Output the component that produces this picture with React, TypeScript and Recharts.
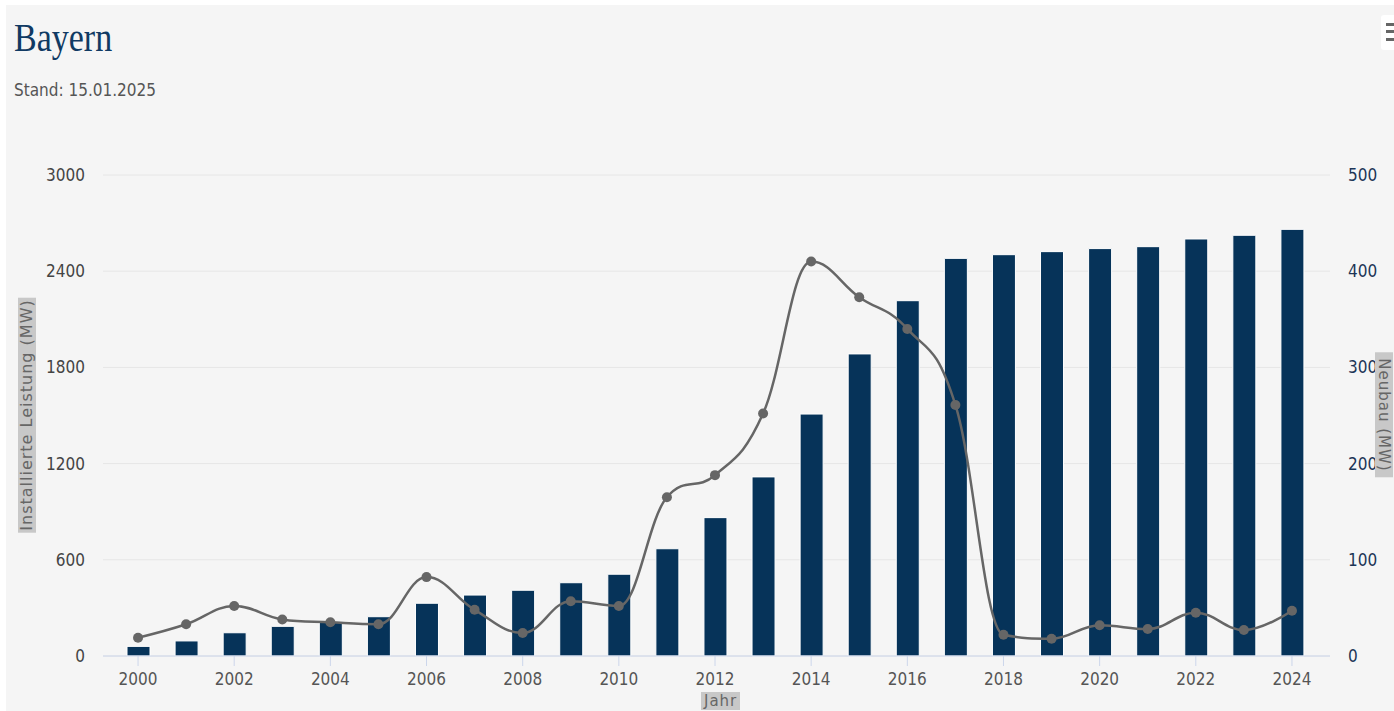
import React from 'react';
import {
  ComposedChart, Bar, Line, XAxis, YAxis, CartesianGrid,
} from 'recharts';

// Jahre, Gesamtleistung (Balken, linke Achse) und Neubau (Linie, rechte Achse)
const years = [
  '2000', '2001', '2002', '2003', '2004', '2005', '2006', '2007', '2008', '2009',
  '2010', '2011', '2012', '2013', '2014', '2015', '2016', '2017', '2018', '2019',
  '2020', '2021', '2022', '2023', '2024',
];
const installiert = [
  60, 94, 145, 185, 213, 245, 329, 380, 410, 457,
  510, 669, 863, 1117, 1509, 1884, 2216, 2480, 2503, 2522,
  2541, 2553, 2601, 2624, 2661,
];
const neubau = [
  19, 33, 52, 38, 35, 33, 82, 48, 24, 57,
  52, 165, 188, 252, 410, 373, 340, 261, 22, 18,
  32, 28, 45, 27, 47,
];
const leftTicks = [0, 600, 1200, 1800, 2400, 3000];
const rightTicks = [0, 100, 200, 300, 400, 500];

const data = years.map((y, i) => ({ jahr: y, leistung: installiert[i], neubau: neubau[i] }));

const NAVY = '#063359';
const GREY_LINE = '#666666';
const TICK_FONT = '"Liberation Sans Narrow", "DejaVu Sans Condensed", sans-serif';

// spline like highcharts: smoothing 1.5, no overshoot
function hcSpline(context: any) {
  let pts: number[][] = [];
  return {
    areaStart() {},
    areaEnd() {},
    lineStart() { pts = []; },
    point(x: number, y: number) { pts.push([+x, +y]); },
    lineEnd() {
      const n = pts.length;
      if (!n) return;
      const lc: number[][] = [];
      const rc: number[][] = [];
      for (let i = 0; i < n; i++) {
        const [px, py] = pts[i];
        if (i > 0 && i < n - 1) {
          const [lx, ly] = pts[i - 1];
          const [nx, ny] = pts[i + 1];
          const s = 1.5, d = 2.5;
          const lcx = (s * px + lx) / d;
          let lcy = (s * py + ly) / d;
          const rcx = (s * px + nx) / d;
          let rcy = (s * py + ny) / d;
          const corr = ((rcy - lcy) * (rcx - px)) / (rcx - lcx) + py - rcy;
          lcy += corr;
          rcy += corr;
          if (lcy > ly && lcy > py) { lcy = Math.max(ly, py); rcy = 2 * py - lcy; }
          else if (lcy < ly && lcy < py) { lcy = Math.min(ly, py); rcy = 2 * py - lcy; }
          if (rcy > ny && rcy > py) { rcy = Math.max(ny, py); lcy = 2 * py - rcy; }
          else if (rcy < ny && rcy < py) { rcy = Math.min(ny, py); lcy = 2 * py - rcy; }
          lc[i] = [lcx, lcy];
          rc[i] = [rcx, rcy];
        } else {
          lc[i] = [px, py];
          rc[i] = [px, py];
        }
      }
      context.moveTo(pts[0][0], pts[0][1]);
      for (let i = 1; i < n; i++) {
        context.bezierCurveTo(rc[i - 1][0], rc[i - 1][1], lc[i][0], lc[i][1], pts[i][0], pts[i][1]);
      }
    },
  };
}

const axisTitle: React.CSSProperties = {
  position: 'absolute',
  background: '#c8c8c8',
  color: '#666',
  fontFamily: '"DejaVu Sans", sans-serif',
  fontSize: 16,
  letterSpacing: 1,
  lineHeight: '18px',
  padding: '0 2px',
  whiteSpace: 'nowrap',
};

export default function App() {
  return (
    <div style={{ position: 'absolute', left: 0, top: 0, width: 1394, height: 711, background: '#fff', overflow: 'hidden' }}>
      <div style={{ position: 'absolute', left: 6, top: 5, width: 1388, height: 706, background: '#f5f5f5' }}>
        <ComposedChart
          width={1388}
          height={706}
          data={data}
          margin={{ top: 170, right: 4, bottom: 15, left: 37 }}
        >
          <CartesianGrid yAxisId="left" vertical={false} stroke="#e6e6e6" />
          <XAxis
            dataKey="jahr"
            interval={1}
            padding={{ left: 11, right: 14 }}
            height={40}
            axisLine={{ stroke: '#ccd6eb' }}
            tickLine={{ stroke: '#ccd6eb' }}
            tickSize={10}
            tickMargin={7}
            tick={{ fill: '#555', fontSize: 17, fontFamily: TICK_FONT }}
          />
          <YAxis
            yAxisId="left"
            orientation="left"
            width={60}
            domain={[0, 3000]}
            ticks={leftTicks}
            axisLine={false}
            tickLine={false}
            tickSize={0}
            tickMargin={18}
            tick={{ fill: '#444', fontSize: 17, fontFamily: TICK_FONT }}
          />
          <YAxis
            yAxisId="right"
            orientation="right"
            width={60}
            domain={[0, 500]}
            ticks={rightTicks}
            axisLine={false}
            tickLine={false}
            tickSize={0}
            tickMargin={18}
            tick={{ fill: '#1c3557', fontSize: 17, fontFamily: TICK_FONT }}
          />
          <Bar
            yAxisId="left"
            dataKey="leistung"
            fill={NAVY}
            stroke="#ffffff"
            strokeWidth={1}
            barSize={23}
            isAnimationActive={false}
          />
          <Line
            yAxisId="right"
            dataKey="neubau"
            type={hcSpline as any}
            stroke={GREY_LINE}
            strokeWidth={2.5}
            dot={{ r: 5, fill: GREY_LINE, stroke: GREY_LINE, strokeWidth: 0 }}
            activeDot={false}
            isAnimationActive={false}
          />
        </ComposedChart>
      </div>

      <div style={{ position: 'absolute', left: 14, top: 14, fontFamily: '"Liberation Serif", "DejaVu Serif", serif', fontSize: 40, color: '#103a63', transform: 'scaleX(0.85)', transformOrigin: 'left top', lineHeight: '48px' }}>
        Bayern
      </div>
      <div style={{ position: 'absolute', left: 14, top: 79, fontFamily: TICK_FONT, fontSize: 17, color: '#555', lineHeight: '22px' }}>
        Stand: 15.01.2025
      </div>

      <div style={{ ...axisTitle, left: 27, top: 415, transform: 'translate(-50%, -50%) rotate(-90deg)' }}>
        Installierte Leistung (MW)
      </div>
      <div style={{ ...axisTitle, left: 1384, top: 415, transform: 'translate(-50%, -50%) rotate(90deg)', padding: '0 6px', fontSize: 15 }}>
        Neubau (MW)
      </div>
      <div style={{ ...axisTitle, left: 701, top: 692, padding: '0 3px', fontSize: 15 }}>
        Jahr
      </div>

      <div style={{ position: 'absolute', left: 1381, top: 15, width: 20, height: 35, background: '#fff', borderRadius: 3 }}>
        <div style={{ position: 'absolute', left: 5, top: 8, width: 14, height: 3, background: '#666' }} />
        <div style={{ position: 'absolute', left: 5, top: 15, width: 14, height: 3, background: '#666' }} />
        <div style={{ position: 'absolute', left: 5, top: 23, width: 14, height: 3, background: '#666' }} />
      </div>
    </div>
  );
}
